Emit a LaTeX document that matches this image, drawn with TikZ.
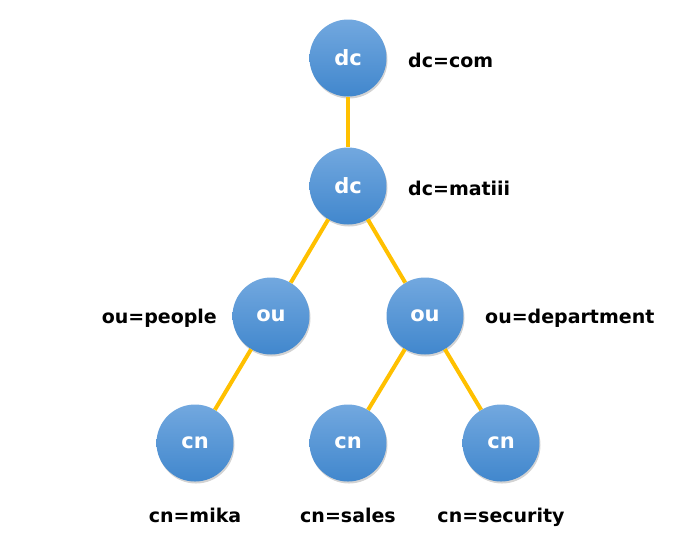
\documentclass[tikz,border=0pt]{standalone}
\usepackage{fontspec}
\setmainfont{DejaVu Sans}
\usetikzlibrary{shadows}
\definecolor{ldaptop}{HTML}{72A8DF}
\definecolor{ldapbot}{HTML}{4187CD}
\definecolor{ldapline}{HTML}{FFC000}
\begin{document}
\begin{tikzpicture}[x=1pt, y=-1pt,
    entry/.style={circle, minimum size=77pt, inner sep=0pt,
      top color=ldaptop, bottom color=ldapbot,
      drop shadow={shadow xshift=1pt, shadow yshift=-2pt, opacity=0.35},
      text=white, font=\fontsize{21}{24}\selectfont\bfseries},
    dn/.style={font=\fontsize{19}{22}\selectfont\bfseries, text=black,
      inner sep=0pt},
    link/.style={ldapline, line width=4pt}]

  \useasboundingbox (0,0) rectangle (684,539);

  % --- Einträge ---
  \node[entry] (com)    at (348, 58)  {dc};
  \node[entry] (matiii) at (348,186)  {dc};
  \node[entry] (people) at (271,316)  {ou};
  \node[entry] (dept)   at (425,316)  {ou};
  \node[entry] (mika)   at (195,443)  {cn};
  \node[entry] (sales)  at (348,443)  {cn};
  \node[entry] (secur)  at (501,443)  {cn};

  % --- Verbindungen ---
  \draw[link] (com) -- (matiii);
  \draw[link] (matiii) -- (people);
  \draw[link] (matiii) -- (dept);
  \draw[link] (people) -- (mika);
  \draw[link] (dept) -- (sales);
  \draw[link] (dept) -- (secur);

  % --- DN-Beschriftungen ---
  \node[dn, anchor=base west] (lcom)    at (408, 67) {dc=com};
  \node[dn, anchor=base west] (lmatiii) at (408,195) {dc=matiii};
  \node[dn, anchor=base east] (lpeople) at (217,323) {ou=people};
  \node[dn, anchor=base west] (ldept)   at (485,323) {ou=department};
  \node[dn, anchor=base] (lmika)  at (195,522) {cn=mika};
  \node[dn, anchor=base] (lsales) at (348,522) {cn=sales};
  \node[dn, anchor=base] (lsecur) at (501,522) {cn=security};

\end{tikzpicture}
\end{document}
